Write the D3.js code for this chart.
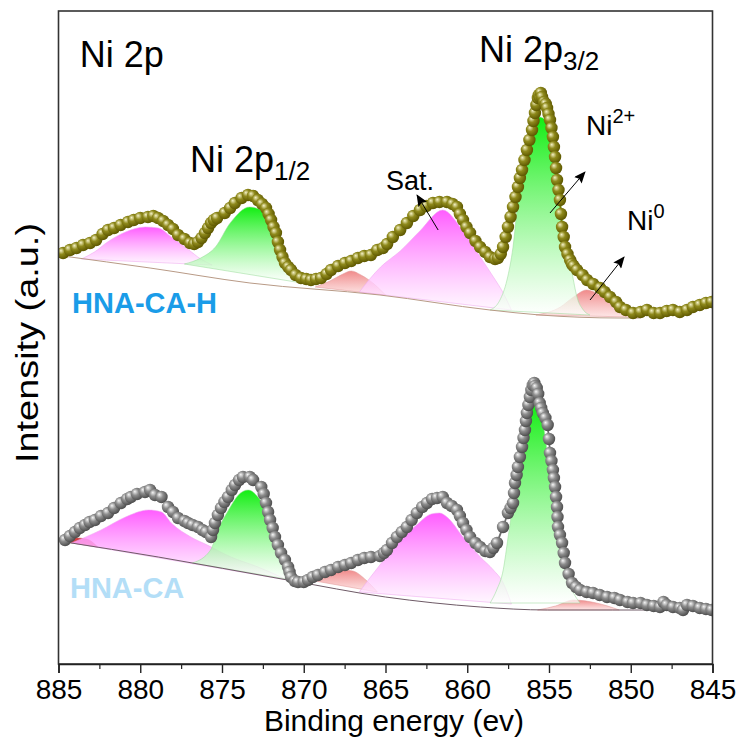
<!DOCTYPE html>
<html>
<head>
<meta charset="utf-8">
<script src="https://cdn.jsdelivr.net/npm/d3@7"></script>
<style>
  html, body { margin: 0; padding: 0; background: #fff; }
  svg { display: block; font-family: Arial, "Liberation Sans", sans-serif; }
</style>
</head>
<body>
<svg id="chart" width="743" height="742"></svg>
<script>
// ---------- DATA (binding energy eV, intensity a.u.) ----------
const xTicks = [885, 880, 875, 870, 865, 860, 855, 850, 845];
const xMinorTicks = [882.5, 877.5, 872.5, 867.5, 862.5, 857.5, 852.5, 847.5];

// HNA-CA-H measured points
const topSpectrum = [
  [884.72,411],[884.3,414],[883.9,416],[883.5,419],[883.07,421],[882.7,424],[882.3,430],[881.97,434],
  [881.6,436],[881.2,439],[880.75,442],[880.4,444],[880.0,446],[879.53,447],[879.2,448],[878.91,446],
  [878.6,443],[878.3,439],[878.0,435],[877.69,429],[877.3,425],[876.96,421],[876.7,420],[876.47,422],
  [876.25,426],[876.04,431],[875.85,436],[875.67,441],[875.5,444],[875.3,446],[874.83,451],[874.5,456],
  [874.21,461],[873.8,466],[873.41,469],[873.1,468],[872.81,464],[872.55,460],[872.31,456],[872.15,450],
  [872.0,444],[871.85,437],[871.7,431],[871.58,422],[871.45,414],[871.3,407],[871.15,401],[870.95,397],
  [870.78,394],[870.5,389],[870.17,386],[869.85,385],[869.56,384],[869.25,385],[868.94,386],[868.6,390],
  [868.33,394],[867.9,398],[867.48,401],[867.1,403],[866.69,406],[866.3,408],[865.89,409],[865.5,414],
  [865.15,416],[864.9,420],[864.55,427],[864.1,434],[863.69,441],[863.3,448],[862.89,454],[862.5,458],
  [862.1,461],[861.7,462],[861.24,462],[860.9,460],[860.63,457],[860.45,450],[860.26,444],[860.05,437],
  [859.83,431],[859.5,423],[859.22,417],[858.9,412],[858.61,407],[858.3,405],[858.12,406],[857.95,410],
  [857.81,417],[857.65,427],[857.51,437],[857.35,447],[857.2,457],[857.05,467],[856.9,477],[856.78,486],
  [856.65,494],[856.5,504],[856.35,514],[856.2,524],[856.04,534],[855.95,543],[855.86,551],[855.77,559],
  [855.68,566],[855.62,569],[855.55,567],[855.5,571],[855.43,567],[855.3,562],[855.2,560],[855.12,556],
  [855.03,550],[854.94,544],[854.85,536],[854.76,527],[854.7,517],[854.63,507],[854.57,496],[854.51,484],
  [854.42,474],[854.33,464],[854.27,450],[854.2,437],[854.1,427],[854.02,417],[853.87,410],[853.71,404],
  [853.6,400],[853.5,398],[853.29,394],[852.95,389],[852.67,384],[852.3,380],[851.88,376],[851.6,372],
  [851.27,367],[850.9,362],[850.66,357],[850.3,354],[849.86,351],[849.4,352],[849.01,354],[848.6,351],
  [848.21,351],[847.8,353],[847.42,354],[847.0,352],[846.56,354],[846.2,357],[845.78,359],[845.4,361],
  [845.05,362]
];

// HNA-CA measured points
const bottomSpectrum = [
  [884.6,124],[884.3,128],[883.99,132],[883.7,136],[883.38,139],[883.1,142],[882.77,144],[882.4,148],
  [881.97,151],[881.6,156],[881.18,161],[880.8,165],[880.57,167],[880.2,170],[879.71,172],[879.4,174],
  [879.1,169],[878.7,167],[878.3,157],[878.0,152],[877.69,146],[877.3,143],[877.08,141],[876.8,139],
  [876.47,137],[876.2,134],[875.98,132],[875.67,127],[875.55,134],[875.43,141],[875.25,149],[875.06,156],
  [874.85,162],[874.63,167],[874.4,174],[874.2,179],[873.95,184],[873.72,187],[873.3,187],[873.1,184],
  [872.6,177],[872.45,170],[872.31,161],[872.18,152],[872.06,144],[871.9,136],[871.76,127],[871.58,119],
  [871.39,111],[871.15,104],[870.96,97],[870.87,92],[870.78,87],[870.55,83],[870.35,82],[870.0,82],
  [869.74,84],[869.45,87],[869.13,89],[868.7,92],[868.33,94],[867.9,97],[867.48,99],[867.1,101],
  [866.69,104],[866.3,106],[865.89,107],[865.34,108],[865.1,111],[864.91,114],[864.6,121],[864.3,127],
  [864.0,132],[863.69,137],[863.4,144],[863.08,151],[862.75,157],[862.46,161],[862.15,165],[861.85,166],
  [861.5,167],[861.24,161],[860.95,158],[860.63,154],[860.45,148],[860.26,141],[860.05,134],[859.83,127],
  [859.5,121],[859.22,117],[858.9,113],[858.61,112],[858.4,116],[858.18,121],[857.81,137],[857.51,151],
  [857.35,156],[857.2,161],[857.14,171],[857.08,181],[856.98,189],[856.9,197],[856.78,207],[856.65,217],
  [856.56,226],[856.47,234],[856.41,243],[856.35,251],[856.26,259],[856.17,267],[856.08,274],[855.99,279],
  [855.9,281],[855.85,278],[855.75,276],[855.66,270],[855.57,261],[855.48,256],[855.38,251],[855.22,246],
  [855.08,239],[855.0,225],[854.94,211],[854.85,203],[854.76,194],[854.7,186],[854.63,177],[854.57,167],
  [854.51,157],[854.48,147],[854.45,137],[854.33,129],[854.2,121],[854.1,111],[854.02,101],[853.8,90],
  [853.59,81],[853.35,77],[853.1,74],[852.7,72],[852.31,71],[851.9,69],[851.45,67],[851.0,66],
  [850.66,64],[850.2,62],[849.86,61],[849.4,61],[849.01,59],[848.6,58],[848.21,57],[848.0,62],
  [847.8,59],[847.42,57],[847.0,56],[846.8,54],[846.56,59],[846.2,58],[845.78,56],[845.4,55],
  [845.05,54]
];

// Backgrounds
const topBackground = [[884.72,408],[879.4,396],[873.29,381],[865.34,369],[858.61,354],[855.55,349],[850.66,346],[849.4,346]];
const bottomBackground = [[884.6,122],[878.9,107],[871.0,84],[865.0,67],[859.2,57],[855.1,54],[851.1,54],[849.0,54]];

// Fitted components, HNA-CA-H
const topSat12   = [[883.6,405],[882.8,412],[882.0,422],[880.9,432],[879.7,437],[878.9,436],[878.1,427],[877.1,415],[876.3,405],[875.6,399]];
const topMain12  = [[877.3,400],[876.3,406],[875.4,417],[874.5,441],[873.3,457],[872.4,452],[871.8,434],[871.2,407],[870.8,391],[870.1,381]];
const topRed12   = [[869.3,377],[868.4,383],[867.6,390],[867.1,393],[866.5,389],[865.7,380],[865.0,369]];
const topSat32   = [[866.6,372],[865.3,397],[864.1,413],[862.9,433],[861.5,454],[860.3,434],[859.2,407],[858.4,387],[857.8,371],[857.3,354]];
const topNi2     = [[858.6,354],[858.0,364],[857.57,384],[857.2,417],[856.78,484],[856.35,521],[855.99,541],[855.55,547],[855.12,541],[854.76,517],[854.45,484],[854.2,451],[853.9,417],[853.59,391],[853.29,367],[852.9,354],[852.5,349]];
const topNi0     = [[855.8,349],[854.3,357],[853.5,367],[852.7,374],[851.5,364],[850.7,354],[849.9,347]];

// Fitted components, HNA-CA
const botRedEdge = [[884.5,122],[884.0,126],[883.3,125],[882.6,117]];
const botSat12   = [[884.2,121],[882.4,134],[880.9,147],[879.5,154],[878.7,152],[878.1,141],[876.9,127],[875.9,119],[874.45,107],[872.8,97],[871.0,84]];
const botMain12  = [[876.8,101],[875.7,114],[875.25,134],[874.6,154],[874.0,169],[873.4,174],[872.8,167],[872.3,154],[871.9,137],[871.45,117],[871.1,97],[870.7,84]];
const botRed12   = [[869.3,83],[868.5,89],[867.6,94],[867.0,93],[866.2,84],[865.5,72]];
const botSat32   = [[866.6,72],[865.3,100],[864.3,120],[863.1,139],[862.2,150],[861.7,151],[861.24,147],[860.26,127],[859.2,107],[858.4,94],[857.8,81],[857.3,60]];
const botNi2     = [[858.6,61],[858.2,74],[857.8,94],[857.5,127],[857.2,161],[856.8,211],[856.35,244],[856.04,262],[855.75,257],[855.4,244],[855.1,211],[854.8,177],[854.5,144],[854.2,111],[853.9,87],[853.5,71],[853.1,61]];
const botNi0     = [[855.7,54],[854.6,58],[853.5,64],[852.1,61],[850.7,54]];

// Annotations: [energy, intensity]
const labelPos = {
  title: [883.7, 597], p12: [876.96, 492], p32: [859.28, 602],
  sat: [864.97, 474], ni2: [852.74, 529], ni0: [850.23, 434],
  sampleTop: [884.17, 351], sampleBot: [884.3, 66]
};
const arrows = [
  [[861.78, 434], [863.07, 469]],
  [[854.94, 451], [852.8, 492]],
  [[852.49, 364], [850.41, 407]]
];

// ---------- CHART ----------
const svg = d3.select("#chart");
const x = d3.scaleLinear().domain([885, 845]).range([58.5, 712.5]);
const y = d3.scaleLinear().domain([0, 653]).range([664, 11]);

const defs = svg.append("defs");
function vGrad(id, top, bottom, bottomOpacity) {
  const g = defs.append("linearGradient").attr("id", id)
    .attr("x1", 0).attr("y1", 0).attr("x2", 0).attr("y2", 1);
  g.append("stop").attr("offset", "0%").attr("stop-color", top);
  g.append("stop").attr("offset", "100%").attr("stop-color", bottom).attr("stop-opacity", bottomOpacity);
}
vGrad("gGreen", "#12ee12", "#ffffff", 0.7);
vGrad("gMag", "#ff5cff", "#fff4ff", 0.7);
vGrad("gRed", "#f08a8a", "#fde2e2", 0.85);

function ball(id, hi, mid, edge) {
  const g = defs.append("radialGradient").attr("id", id)
    .attr("cx", "40%").attr("cy", "40%").attr("r", "60%").attr("fx", "32%").attr("fy", "30%");
  g.append("stop").attr("offset", "0%").attr("stop-color", hi);
  g.append("stop").attr("offset", "45%").attr("stop-color", mid);
  g.append("stop").attr("offset", "100%").attr("stop-color", edge);
}
ball("bOlive", "#f4f1c6", "#8f8a1c", "#5e5800");
ball("bGray", "#f6f6f6", "#8e8e8e", "#4e4e4e");

defs.append("marker").attr("id", "arrowHead")
  .attr("viewBox", "0 0 12 10").attr("refX", 11).attr("refY", 5)
  .attr("markerWidth", 13).attr("markerHeight", 10)
  .attr("markerUnits", "userSpaceOnUse").attr("orient", "auto")
  .append("path").attr("d", "M0,0 L12,5 L0,10 L2,5 z").attr("fill", "#000");

const clip = defs.append("clipPath").attr("id", "plotClip");
clip.append("rect").attr("x", 58.5).attr("y", 11).attr("width", 654).attr("height", 653);

const plot = svg.append("g").attr("clip-path", "url(#plotClip)");

const compLine = d3.line().x(d => x(d[0])).y(d => y(d[1])).curve(d3.curveMonotoneX);
function component(data, fill, stroke) {
  plot.append("path").attr("d", compLine(data) + "Z")
    .attr("fill", fill).attr("stroke", stroke).attr("stroke-width", 0.7).attr("stroke-opacity", 0.8);
}

// HNA-CA-H components
component(topRed12, "url(#gRed)", "#e39a9a");
component(topSat12, "url(#gMag)", "#eeaaee");
component(topMain12, "url(#gGreen)", "#9edc9e");
component(topSat32, "url(#gMag)", "#eeaaee");
component(topNi0, "url(#gRed)", "#e39a9a");
component(topNi2, "url(#gGreen)", "#9edc9e");

// HNA-CA components
component(botRedEdge, "#d64040", "#c03030");
component(botSat12, "url(#gMag)", "#eeaaee");
component(botMain12, "url(#gGreen)", "#9edc9e");
component(botRed12, "url(#gRed)", "#e39a9a");
component(botSat32, "url(#gMag)", "#eeaaee");
component(botNi0, "url(#gRed)", "#e39a9a");
component(botNi2, "url(#gGreen)", "#9edc9e");

// Backgrounds
const bgLine = d3.line().x(d => x(d[0])).y(d => y(d[1])).curve(d3.curveMonotoneX);
plot.append("path").attr("d", bgLine(topBackground)).attr("fill", "none").attr("stroke", "#b89a86").attr("stroke-width", 1);
plot.append("path").attr("d", bgLine(bottomBackground)).attr("fill", "none").attr("stroke", "#6e5a66").attr("stroke-width", 1);

// Envelopes + points
const envLine = d3.line().x(d => x(d[0])).y(d => y(d[1])).curve(d3.curveBasis);
const byEnergy = arr => arr.slice().sort((a, b) => b[0] - a[0]);
plot.append("path").attr("d", envLine(byEnergy(topSpectrum))).attr("fill", "none").attr("stroke", "#7a7406").attr("stroke-width", 1.8);
plot.append("path").attr("d", envLine(byEnergy(bottomSpectrum))).attr("fill", "none").attr("stroke", "#6c6c6c").attr("stroke-width", 1.8);

plot.append("g").selectAll("circle").data(topSpectrum).join("circle")
  .attr("cx", d => x(d[0])).attr("cy", d => y(d[1])).attr("r", 6.2)
  .attr("fill", "url(#bOlive)");
plot.append("g").selectAll("circle").data(bottomSpectrum).join("circle")
  .attr("cx", d => x(d[0])).attr("cy", d => y(d[1])).attr("r", 6.2)
  .attr("fill", "url(#bGray)");

// Frame
svg.append("rect").attr("x", 58.5).attr("y", 11).attr("width", 654).attr("height", 653)
  .attr("fill", "none").attr("stroke", "#333").attr("stroke-width", 1.6);

// X axis
const xAxis = svg.append("g").attr("transform", "translate(0,664)")
  .call(d3.axisBottom(x).tickValues(xTicks).tickSize(9).tickPadding(6).tickFormat(d3.format("d")));
xAxis.select(".domain").attr("stroke", "#222").attr("stroke-width", 1.6);
xAxis.selectAll(".tick line").attr("stroke", "#222").attr("stroke-width", 1.4);
xAxis.selectAll(".tick text").attr("font-size", 28).attr("fill", "#000")
  .attr("font-family", "Arial, 'Liberation Sans', sans-serif");
svg.append("g").attr("transform", "translate(0,664)")
  .call(d3.axisBottom(x).tickValues(xMinorTicks).tickSize(5).tickFormat(""))
  .call(g => g.select(".domain").remove())
  .selectAll(".tick line").attr("stroke", "#222").attr("stroke-width", 1.2);

svg.append("text").attr("x", 394).attr("y", 731).attr("text-anchor", "middle")
  .attr("font-size", 30).attr("fill", "#000").text("Binding energy (ev)");
svg.append("text").attr("transform", "translate(38,343) rotate(-90)").attr("text-anchor", "middle")
  .attr("font-size", 32).attr("fill", "#000")
  .attr("textLength", 240).attr("lengthAdjust", "spacingAndGlyphs")
  .text("Intensity (a.u.)");

// Labels
function subLabel(pos, main, sub, size, subSize, isSup) {
  const t = svg.append("text").attr("x", x(pos[0])).attr("y", y(pos[1]))
    .attr("font-size", size).attr("fill", "#000");
  t.append("tspan").text(main);
  t.append("tspan").attr("font-size", subSize).attr("dy", isSup ? -size * 0.42 : size * 0.22).text(sub);
}
svg.append("text").attr("x", x(labelPos.title[0])).attr("y", y(labelPos.title[1]))
  .attr("font-size", 36).attr("fill", "#000").text("Ni 2p");
subLabel(labelPos.p12, "Ni 2p", "1/2", 36, 26, false);
subLabel(labelPos.p32, "Ni 2p", "3/2", 36, 26, false);
svg.append("text").attr("x", x(labelPos.sat[0])).attr("y", y(labelPos.sat[1]))
  .attr("font-size", 27).attr("fill", "#000").text("Sat.");
subLabel(labelPos.ni2, "Ni", "2+", 28, 20, true);
subLabel(labelPos.ni0, "Ni", "0", 28, 20, true);

svg.append("text").attr("x", x(labelPos.sampleTop[0])).attr("y", y(labelPos.sampleTop[1]))
  .attr("font-size", 29).attr("font-weight", "bold").attr("fill", "#1a9ce8").text("HNA-CA-H");
svg.append("text").attr("x", x(labelPos.sampleBot[0])).attr("y", y(labelPos.sampleBot[1]))
  .attr("font-size", 29).attr("font-weight", "bold").attr("fill", "#b3def7").text("HNA-CA");

svg.append("g").selectAll("line").data(arrows).join("line")
  .attr("x1", d => x(d[0][0])).attr("y1", d => y(d[0][1]))
  .attr("x2", d => x(d[1][0])).attr("y2", d => y(d[1][1]))
  .attr("stroke", "#000").attr("stroke-width", 1)
  .attr("marker-end", "url(#arrowHead)");
</script>
</body>
</html>
